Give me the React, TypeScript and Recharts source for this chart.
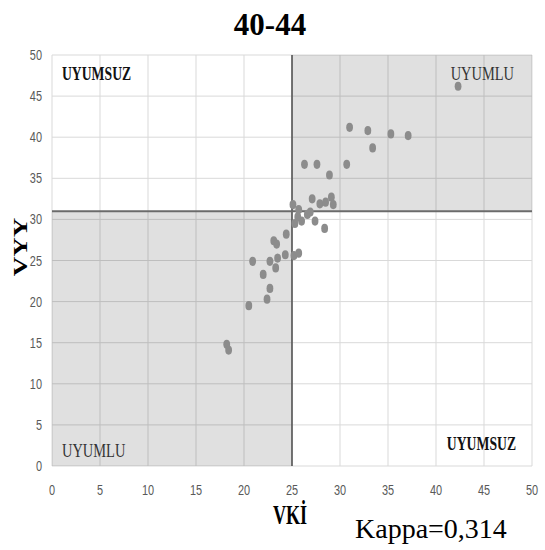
import {
  ScatterChart,
  Scatter,
  XAxis,
  YAxis,
  CartesianGrid,
  ReferenceArea,
  ReferenceLine,
  Label,
} from "recharts";

// VKİ (x) and VYY (y) for the 40-44 age group
const vki = [
  42.3, 31.0, 32.9, 35.3, 37.1, 33.4, 26.3, 27.6, 30.7, 28.9,
  27.1, 27.9, 28.5, 29.1, 29.3, 25.1, 25.7, 26.9, 26.6, 26.0,
  25.3, 27.4, 28.4, 24.4, 23.1, 23.4, 20.9, 22.7, 23.5, 24.3,
  25.2, 25.7, 23.3, 22.0, 22.7, 22.4, 20.5, 18.2, 18.4, 25.6,
];
const vyy = [
  46.2, 41.2, 40.8, 40.4, 40.2, 38.7, 36.7, 36.7, 36.7, 35.4,
  32.5, 31.9, 32.1, 32.7, 31.8, 31.8, 31.2, 30.9, 30.6, 29.8,
  29.5, 29.8, 28.9, 28.2, 27.4, 27.0, 24.9, 24.9, 25.3, 25.7,
  25.6, 25.9, 24.1, 23.3, 21.6, 20.3, 19.5, 14.8, 14.1, 30.3,
];
const axisTicks = [0, 5, 10, 15, 20, 25, 30, 35, 40, 45, 50];
const vkiCut = 25;
const vyyCut = 31;

const points = vki.map((x, i) => ({ vki: x, vyy: vyy[i] }));

const tickFont = "'Liberation Sans', 'DejaVu Sans', sans-serif";
const serif = "'Liberation Serif', 'DejaVu Serif', serif";

function XTick({ x, y, payload }: any) {
  return (
    <text
      transform={`translate(${x},${y + 21}) scale(0.78,1)`}
      textAnchor="middle"
      fontSize={14}
      fill="#595959"
      fontFamily={tickFont}
    >
      {payload.value}
    </text>
  );
}

function YTick({ x, y, payload }: any) {
  return (
    <text
      transform={`translate(${x - 2},${y + 5}) scale(0.78,1)`}
      textAnchor="end"
      fontSize={14}
      fill="#595959"
      fontFamily={tickFont}
    >
      {payload.value}
    </text>
  );
}

const Dot = (props: any) => (
  <ellipse cx={props.cx} cy={props.cy} rx={3.4} ry={4.6} fill="#8c8c8c" />
);

// corner text for each quadrant
const quadLabel =
  (text: string, corner: "tl" | "tr" | "bl" | "br", bold: boolean) =>
  (props: any) => {
    const { x, y, width, height } = props.viewBox;
    const right = corner === "tr" || corner === "br";
    const bottom = corner === "bl" || corner === "br";
    let tx = right ? x + width - 18 : x + 10;
    let ty = bottom ? y + height - 9 : y + 25;
    if (corner === "br") {
      tx = x + width - 16;
      ty = y + height - 16;
    }
    return (
      <text
        transform={`translate(${tx},${ty}) scale(${bold ? 0.72 : 0.76},1)`}
        textAnchor={right ? "end" : "start"}
        fontSize={19}
        fontWeight={bold ? "bold" : "normal"}
        fill={bold ? "#111" : "#333"}
        fontFamily={serif}
      >
        {text}
      </text>
    );
  };

export default function App() {
  return (
    <div style={{ position: "absolute", left: 0, top: 0, width: 545, height: 550, background: "#fff" }}>
      <ScatterChart
        width={545}
        height={550}
        margin={{ top: 55, right: 13, bottom: 44, left: 0 }}
      >
        <ReferenceArea
          x1={0}
          x2={vkiCut}
          y1={0}
          y2={vyyCut}
          fill="#000"
          fillOpacity={0.12}
          stroke="none"
        >
          <Label content={quadLabel("UYUMLU", "bl", false)} />
        </ReferenceArea>
        <ReferenceArea
          x1={vkiCut}
          x2={50}
          y1={vyyCut}
          y2={50}
          fill="#000"
          fillOpacity={0.12}
          stroke="none"
        >
          <Label content={quadLabel("UYUMLU", "tr", false)} />
        </ReferenceArea>
        <ReferenceArea x1={0} x2={vkiCut} y1={vyyCut} y2={50} fillOpacity={0} stroke="none">
          <Label content={quadLabel("UYUMSUZ", "tl", true)} />
        </ReferenceArea>
        <ReferenceArea x1={vkiCut} x2={50} y1={0} y2={vyyCut} fillOpacity={0} stroke="none">
          <Label content={quadLabel("UYUMSUZ", "br", true)} />
        </ReferenceArea>
        <CartesianGrid stroke="#d9d9d9" strokeWidth={1} />
        <XAxis
          type="number"
          dataKey="vki"
          domain={[0, 50]}
          ticks={axisTicks}
          interval={0}
          axisLine={false}
          tickLine={false}
          height={40}
          tick={<XTick />}
        />
        <YAxis
          type="number"
          dataKey="vyy"
          domain={[0, 50]}
          ticks={axisTicks}
          interval={0}
          axisLine={false}
          tickLine={false}
          width={52}
          tick={<YTick />}
        />
        <ReferenceLine x={vkiCut} stroke="#4d4d4d" strokeWidth={1.5} />
        <ReferenceLine y={vyyCut} stroke="#6b6b6b" strokeWidth={2} />
        <Scatter data={points} shape={Dot} isAnimationActive={false} />
      </ScatterChart>
      <svg
        width={545}
        height={550}
        style={{ position: "absolute", left: 0, top: 0, pointerEvents: "none" }}
      >
        <text x={270} y={35} textAnchor="middle" fontSize={31} fontWeight="bold" fontFamily={serif} fill="#000">
          40-44
        </text>
        <text
          transform="translate(290,524) scale(0.67,1)"
          textAnchor="middle"
          fontSize={27}
          fontWeight="bold"
          fontFamily={serif}
          fill="#000"
        >
          VKİ
        </text>
        <text
          transform="translate(27,247) rotate(-90) scale(1,0.67)"
          textAnchor="middle"
          fontSize={27}
          fontWeight="bold"
          fontFamily={serif}
          fill="#000"
        >
          VYY
        </text>
        <text x={355} y={538} fontSize={28} fontFamily={serif} fill="#000">
          Kappa=0,314
        </text>
      </svg>
    </div>
  );
}
